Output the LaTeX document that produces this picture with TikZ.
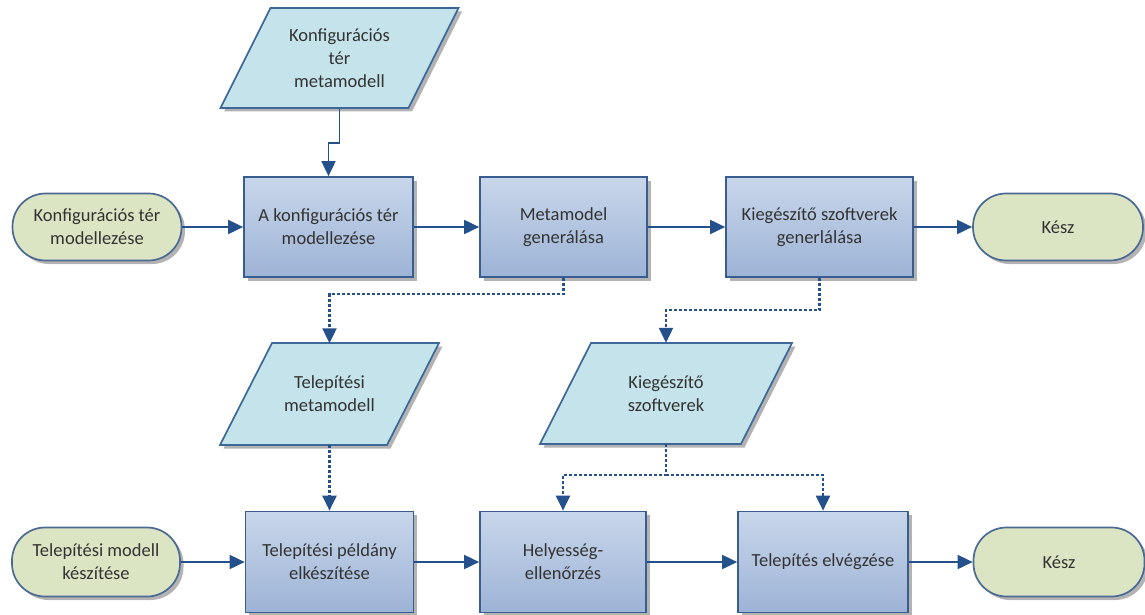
\documentclass[tikz,border=0pt]{standalone}
\usepackage{fontspec}
\setmainfont{Carlito}
\usetikzlibrary{arrows.meta,shadows,calc}

\definecolor{boxtop}{HTML}{C8D6EA}
\definecolor{boxbot}{HTML}{9DB3D6}
\definecolor{boxline}{HTML}{3A5D90}
\definecolor{datafill}{HTML}{C4E3EA}
\definecolor{dataline}{HTML}{3D6796}
\definecolor{termfill}{HTML}{DCE5C3}
\definecolor{termline}{HTML}{4A6A94}
\definecolor{wire}{HTML}{24508C}
\definecolor{txt}{HTML}{333333}

\tikzset{
  shade/.style={drop shadow={shadow xshift=3.5pt,shadow yshift=-3.5pt,fill=black!50,opacity=.6}},
  procbox/.style={rectangle,draw=boxline,line width=1.7pt,top color=boxtop,bottom color=boxbot,
    shade,minimum height=100pt,align=center,text=txt,inner sep=2pt},
  termbox/.style={rectangle,rounded corners=33pt,draw=termline,line width=1.7pt,fill=termfill,
    shade,minimum height=67pt,align=center,text=txt,inner sep=2pt},
  datalabel/.style={rectangle,minimum height=101pt,align=center,text=txt,inner sep=0pt},
  datashape/.style={draw=dataline,line width=1.7pt,fill=datafill,shade,line join=miter},
  flow/.style={draw=wire,line width=1.8pt,-{Triangle[length=15pt,width=14pt]}},
  dflow/.style={flow,dash pattern=on 3pt off 2pt,line width=2.2pt},
}

% parallelogram (data) shape: centre, width, slant, height, name
\newcommand\datapara[5]{%
  \path[datashape] ($(#1)+(-#2/2-#3/2,#4/2)$) -- ($(#1)+(#2/2-#3/2,#4/2)$)
    -- ($(#1)+(#2/2+#3/2,-#4/2)$) -- ($(#1)+(-#2/2+#3/2,-#4/2)$) -- cycle;
  \node[datalabel,minimum width=#2pt] (#5) at (#1) {}; }

\begin{document}
\begin{tikzpicture}[x=1pt,y=-1pt,font=\fontsize{18.5}{23}\selectfont]
\useasboundingbox (0,0) rectangle (1145,615);

% ---- upper row ----
\node[termbox,minimum width=169pt] (t1) at (97,227) {Konfigurációs tér\\modellezése};
\node[procbox,minimum width=169pt] (A) at (328.5,227) {A konfigurációs tér\\modellezése};
\node[procbox,minimum width=167pt] (M) at (563.5,227) {Metamodel\\generálása};
\node[procbox,minimum width=187pt] (K) at (819.5,227) {Kiegészítő szoftverek\\generlálása};
\node[termbox,minimum width=170pt] (k1) at (1058,227) {Kész};

% ---- data objects ----
\coordinate (c1) at (339.5,58);
\datapara{c1}{188}{50}{100}{P1}
\node[text=txt,align=center] at (c1) {Konfigurációs\\tér\\metamodell};

\coordinate (c2) at (329.5,394);
\datapara{c2}{167}{52}{102}{P2}
\node[text=txt,align=center] at (c2) {Telepítési\\metamodell};

\coordinate (c3) at (666,393.5);
\datapara{c3}{201}{51}{101}{P3}
\node[text=txt,align=center] at (c3) {Kiegészítő\\szoftverek};

% ---- lower row ----
\node[termbox,minimum width=168pt,minimum height=69pt] (t2) at (96,562) {Telepítési modell\\készítése};
\node[procbox,minimum width=168pt,minimum height=101pt] (TP) at (329.5,562) {Telepítési példány\\elkészítése};
\node[procbox,minimum width=166pt,minimum height=101pt] (H) at (563,562) {Helyesség-\\ellenőrzés};
\node[procbox,minimum width=170pt,minimum height=101pt] (TE) at (823,562) {Telepítés elvégzése};
\node[termbox,minimum width=171pt,minimum height=69pt] (k2) at (1059,562) {Kész};

% ---- control flow ----
\draw[flow] (t1) -- (A);
\draw[flow] (A) -- (M);
\draw[flow] (M) -- (K);
\draw[flow] (K) -- (k1);
\draw[flow] (t2) -- (TP);
\draw[flow] (TP) -- (H);
\draw[flow] (H) -- (TE);
\draw[flow] (TE) -- (k2);

% ---- data flow ----
\draw[flow] (P1.south) -- (P1.south |- 0,143) -| (A.north);
\draw[dflow] (M.south) -- (M.south |- 0,294) -| (P2.north);
\draw[dflow] (K.south) -- (K.south |- 0,310) -| (P3.north);
\draw[dflow] (P2.south) -- (TP.north);
\coordinate (split) at (P3.south |- 0,475);
\draw[dflow] (P3.south) -- (split) -| (H.north);
\draw[dflow] (split) -| (TE.north);
\end{tikzpicture}
\end{document}
